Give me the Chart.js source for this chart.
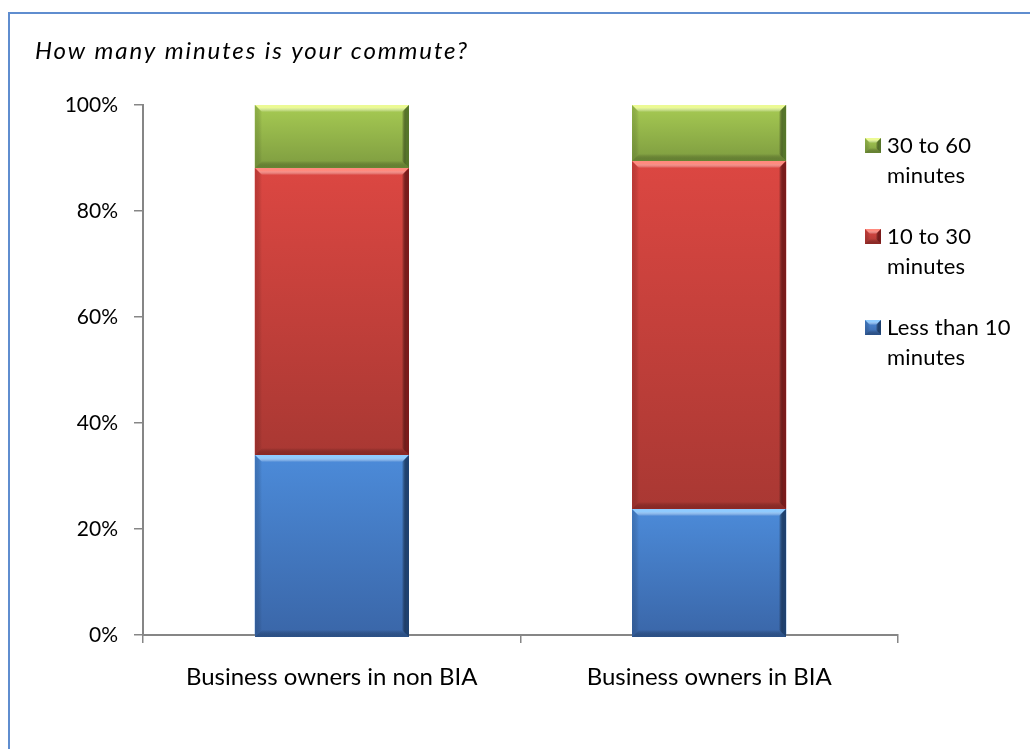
<!DOCTYPE html>
<html>
<head>
<meta charset="utf-8">
<script src="https://cdn.jsdelivr.net/npm/chart.js@4.4.1/dist/chart.umd.min.js"></script>
<style>
  html, body { margin: 0; padding: 0; background: #ffffff; }
  #wrap { position: relative; width: 1030px; height: 749px; overflow: hidden; }
  #frame { position: absolute; left: 8px; top: 12px; width: 1100px; height: 800px;
           border-left: 2px solid #5f8dcf; border-top: 2px solid #5f8dcf; box-sizing: border-box; pointer-events: none; }
  canvas { position: absolute; left: 0; top: 0; }
</style>
</head>
<body>
<div id="wrap">
  <canvas id="chart" width="1030" height="749"></canvas>
  <div id="frame"></div>
</div>
<script>
// Survey: commute length, share of respondents per group
const chartTitle = 'How many minutes is your commute?';
const categories = ['Business owners in non BIA', 'Business owners in BIA'];
const seriesNames = ['Less than 10 minutes', '10 to 30 minutes', '30 to 60 minutes'];
const lessThan10 = [34.0, 23.8];
const tenTo30 = [54.1, 65.6];
const thirtyTo60 = [11.9, 10.6];
const yTickValues = [0, 20, 40, 60, 80, 100];

const FONT = 'Lato, "Open Sans", sans-serif';

// Shading palettes for the bevelled bars: highlight, body top, body bottom, shadow
const palettes = [
  { light: '#8fcbff', top: '#4c8bd9', bottom: '#3a66a8', dark: '#1f416f', base: '#4a86d4' },
  { light: '#ff8a7e', top: '#dc4742', bottom: '#a93833', dark: '#7a1b1b', base: '#d0423e' },
  { light: '#ecfa94', top: '#a7cb53', bottom: '#7e9c40', dark: '#56752a', base: '#9bbb59' }
];

function drawBevelBox(ctx, L, T, R, B, pal) {
  const w = R - L, h = B - T;
  if (w <= 0 || h <= 0) return;
  const b = Math.min(7, h / 3, w / 3);
  // body
  let g = ctx.createLinearGradient(0, T, 0, B);
  g.addColorStop(0, pal.top);
  g.addColorStop(1, pal.bottom);
  ctx.fillStyle = g;
  ctx.fillRect(L, T, w, h);
  // top highlight
  g = ctx.createLinearGradient(0, T, 0, T + b);
  g.addColorStop(0, pal.light);
  g.addColorStop(0.35, pal.light);
  g.addColorStop(1, 'rgba(255,255,255,0)');
  ctx.fillStyle = g;
  ctx.beginPath();
  ctx.moveTo(L, T); ctx.lineTo(R, T); ctx.lineTo(R - b, T + b); ctx.lineTo(L + b, T + b); ctx.closePath();
  ctx.fill();
  // bottom shadow
  g = ctx.createLinearGradient(0, B, 0, B - b);
  g.addColorStop(0, pal.dark);
  g.addColorStop(1, 'rgba(0,0,0,0)');
  ctx.globalAlpha = 0.55;
  ctx.fillStyle = g;
  ctx.beginPath();
  ctx.moveTo(L, B); ctx.lineTo(R, B); ctx.lineTo(R - b, B - b); ctx.lineTo(L + b, B - b); ctx.closePath();
  ctx.fill();
  ctx.globalAlpha = 1;
  // right shadow
  g = ctx.createLinearGradient(R, 0, R - b, 0);
  g.addColorStop(0, pal.dark);
  g.addColorStop(0.4, pal.dark);
  g.addColorStop(1, 'rgba(0,0,0,0)');
  ctx.fillStyle = g;
  ctx.beginPath();
  ctx.moveTo(R, T); ctx.lineTo(R, B); ctx.lineTo(R - b, B - b); ctx.lineTo(R - b, T + b); ctx.closePath();
  ctx.fill();
  // left soft edge
  g = ctx.createLinearGradient(L, 0, L + b, 0);
  g.addColorStop(0, pal.dark);
  g.addColorStop(1, 'rgba(0,0,0,0)');
  ctx.globalAlpha = 0.3;
  ctx.fillStyle = g;
  ctx.beginPath();
  ctx.moveTo(L, T); ctx.lineTo(L, B); ctx.lineTo(L + b, B - b); ctx.lineTo(L + b, T + b); ctx.closePath();
  ctx.fill();
  ctx.globalAlpha = 1;
}

// Paints each stacked segment with a bevelled look using the element geometry
const bevelBars = {
  id: 'bevelBars',
  afterDatasetsDraw(chart) {
    const ctx = chart.ctx;
    ctx.save();
    chart.data.datasets.forEach((ds, i) => {
      const meta = chart.getDatasetMeta(i);
      meta.data.forEach((el) => {
        const p = el.getProps(['x', 'y', 'base', 'width'], true);
        const L = p.x - p.width / 2, R = p.x + p.width / 2;
        const T = Math.min(p.y, p.base), B = Math.max(p.y, p.base);
        drawBevelBox(ctx, Math.round(L), Math.round(T), Math.round(R), Math.round(B) + (i === 0 ? 3 : 0), palettes[i]);
      });
    });
    ctx.restore();
  }
};

// Title at top-left and a wrapped legend on the right
const titleAndLegend = {
  id: 'titleAndLegend',
  afterDraw(chart) {
    const ctx = chart.ctx;
    ctx.save();
    ctx.fillStyle = '#000000';
    ctx.textBaseline = 'alphabetic';
    ctx.textAlign = 'left';
    ctx.font = 'italic 24px ' + FONT;
    ctx.letterSpacing = '1.9px';
    ctx.fillText(chartTitle, 35, 59);

    ctx.font = '22px ' + FONT;
    ctx.letterSpacing = '0.2px';
    const sqX = 865, textX = 887, firstTop = 138, step = 91, lineH = 30, maxW = 140;
    const order = chart.data.datasets.map((d, i) => i).reverse();
    order.forEach((dsIndex, k) => {
      const top = firstTop + k * step;
      drawBevelBox(ctx, sqX, top, sqX + 16, top + 15, palettes[dsIndex]);
      const words = chart.data.datasets[dsIndex].label.split(' ');
      const lines = [];
      let cur = '';
      words.forEach((w) => {
        const test = cur ? cur + ' ' + w : w;
        if (ctx.measureText(test).width > maxW && cur) { lines.push(cur); cur = w; } else { cur = test; }
      });
      if (cur) lines.push(cur);
      ctx.fillStyle = '#000000';
      lines.forEach((ln, j) => ctx.fillText(ln, textX, top + 15 + j * lineH));
    });
    ctx.restore();
  }
};

const datasets = [lessThan10, tenTo30, thirtyTo60].map((values, i) => ({
  label: seriesNames[i],
  data: values,
  backgroundColor: palettes[i].base,
  borderWidth: 0,
  categoryPercentage: 1.0,
  barPercentage: 0.408
}));

new Chart(document.getElementById('chart'), {
  type: 'bar',
  data: { labels: categories, datasets: datasets },
  options: {
    responsive: false,
    animation: false,
    devicePixelRatio: 1,
    layout: { padding: { top: 105, right: 132, bottom: 0, left: 0 } },
    plugins: {
      legend: { display: false },
      title: { display: false },
      tooltip: { enabled: false }
    },
    scales: {
      x: {
        stacked: true,
        z: 1,
        afterFit(scale) { scale.height = 114; },
        grid: { display: true, drawOnChartArea: false, drawTicks: true, tickLength: 8, offset: true, color: '#868686', lineWidth: 1.5 },
        border: { display: true, color: '#868686', width: 2 },
        ticks: { color: '#000000', font: { family: FONT, size: 24 }, padding: 20, maxRotation: 0 }
      },
      y: {
        stacked: true,
        min: 0,
        max: 100,
        afterFit(scale) { scale.width = 143; },
        afterBuildTicks(scale) { scale.ticks = yTickValues.map((v) => ({ value: v })); },
        grid: { display: true, drawOnChartArea: false, drawTicks: true, tickLength: 9, color: '#868686', lineWidth: 1.5 },
        border: { display: true, color: '#868686', width: 2 },
        ticks: { color: '#000000', font: { family: FONT, size: 21 }, padding: 16, callback: (v) => v + '%' }
      }
    }
  },
  plugins: [bevelBars, titleAndLegend]
});
</script>
</body>
</html>
